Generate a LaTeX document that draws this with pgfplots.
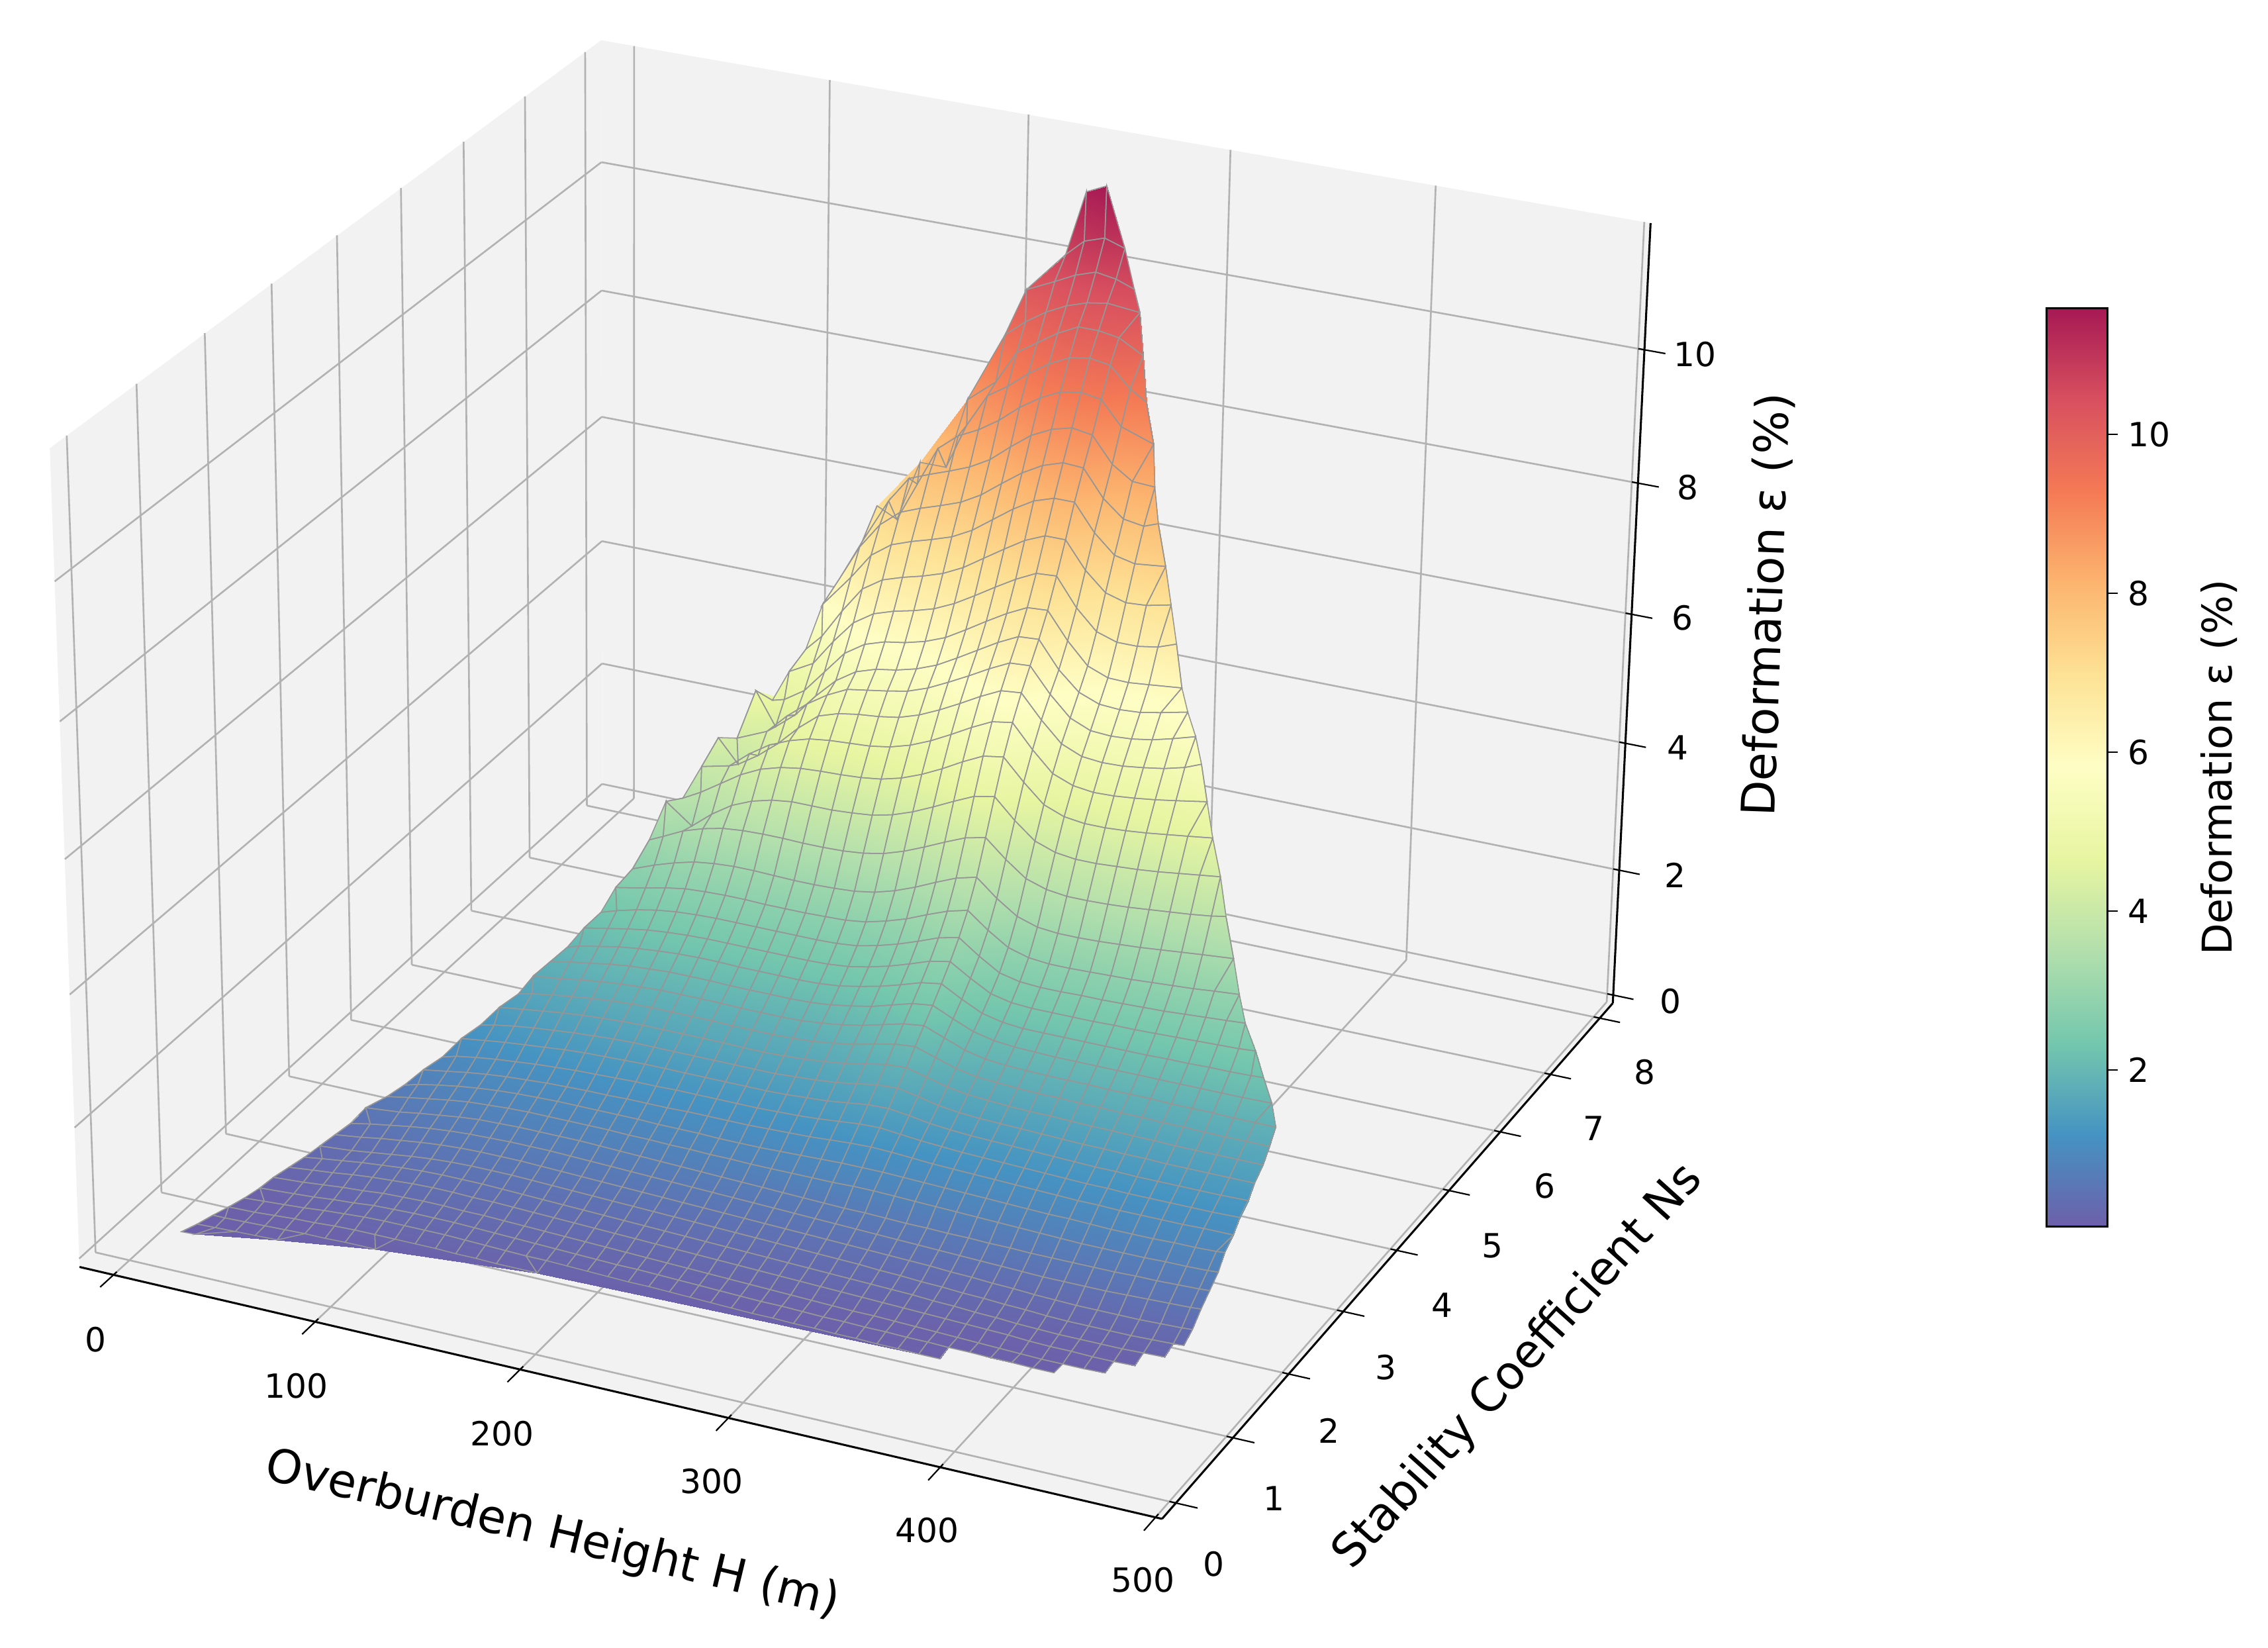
\documentclass[border=0pt]{standalone}
\usepackage{fontspec}
\setmainfont{DejaVu Sans}
\usepackage{pgfplots}
\pgfplotsset{compat=1.18}
\definecolor{pane}{RGB}{242,242,242}
\definecolor{gridc}{RGB}{178,178,178}
\definecolor{meshc}{RGB}{150,150,150}
\newcommand\Proj[3]{%
 \pgfmathsetmacro\qX{0.0021977*(#1-243)}%
 \pgfmathsetmacro\qY{0.13429*(#2-4.015)}%
 \pgfmathsetmacro\qZ{0.0839*(#3-5.77)}%
 \pgfmathsetmacro\qD{10-(0.3660*\qX-0.7849*\qY+0.5*\qZ)}%
 \pgfmathsetmacro\qzf{(#3+0.13)/11.8}%
 \pgfmathsetmacro\qhf{(#1+17)/520}%
 \pgfmathsetmacro\qnf{(#2+0.24)/8.51}%
 \pgfmathsetmacro\PX{597.4+7150*(0.9063*\qX+0.4226*\qY)/\qD+8*(1-\qhf)*\qzf}%
 \pgfmathsetmacro\PY{519-6299*(-0.2113*\qX+0.4532*\qY+0.8660*\qZ)/\qD+\qzf*(-7*(1-\qnf)+\qnf*(7-5*\qhf))}%
}
\newcommand\hmin{-17}\newcommand\hmax{503}
\newcommand\nmin{-0.24}\newcommand\nmax{8.27}
\newcommand\zlo{-0.13}\newcommand\zhi{11.87}
\newcommand\Hstart{5}\newcommand\Hstep{10}\newcommand\Ncols{47}
\gdef\pts{}
\gdef\mpts{}
\newcount\cc
\newcount\nv
\newcommand\nanpt{(nan,nan,0) [0]}
% one row of the grid: Ns, index of first column holding a value,
% H of the first value, H of the last value (0: the grid's own), deformation values
\newcommand\Row[5]{%
 \global\nv=0
 \foreach \e in {#5}{\global\advance\nv by 1}%
 \global\cc=#2\relax
 \foreach \e [count=\ii] in {#5}{%
  \ifnum\ii=1 \edef\hh{#3}%
  \else
   \pgfmathsetmacro\hh{\Hstart+\Hstep*(\the\cc-1)}%
   \ifnum\ii=\nv \ifdim #4pt>0pt \edef\hh{#4}\fi\fi
  \fi
  \Proj{\hh}{#1}{\e}%
  \ifnum\ii=1
   \foreach \jj in {2,...,#2}{\ifnum#2>1
     \xdef\pts{\pts (\PX,\PY,0) [\e]}%
     \ifnum\jj=#2 \xdef\mpts{\mpts (\PX,\PY,0) [\e]}\else \xdef\mpts{\mpts \nanpt}\fi
   \fi}%
  \fi
  \xdef\pts{\pts (\PX,\PY,0) [\e]}\xdef\mpts{\mpts (\PX,\PY,0) [\e]}\global\advance\cc by 1
  \xdef\lastpt{(\PX,\PY,0) [\e]}%
 }%
 \ifdim #4pt>0pt \else \gdef\lastpt{(nan,nan,0) [0]}\fi
 \loop\ifnum\cc<\numexpr\Ncols+1\relax
  \xdef\pts{\pts \lastpt}%
  \ifnum\cc=\numexpr#2+\nv\relax \xdef\mpts{\mpts \lastpt}\else \xdef\mpts{\mpts \nanpt}\fi
  \global\advance\cc by 1
 \repeat
}
\Row{7.58}{26}{248}{258}{11.45,11.59}
\Row{7.30}{25}{246}{275}{10.7,10.95,11.05,10.95}
\Row{7.15}{24}{231}{284}{10.2,10.4,10.55,10.65,10.6,10.5}
\Row{7.00}{23}{225}{291}{9.6,9.85,10.05,10.2,10.3,10.35,10.3}
\Row{6.85}{22}{211}{297}{8.65,9.0,9.5,9.7,9.9,10.05,10.05,10.0,9.8}
\Row{6.70}{20}{192}{303}{7.7,7.7,8.4,8.9,9.1,9.35,9.55,9.7,9.75,9.7,9.4, 9.25}
\Row{6.55}{18}{175}{311}{7.05,6.9,7.5, 8.1,8.35,8.5,8.7,8.95,9.15,9.3,9.35,9.3,8.95, 8.78}
\Row{6.40}{18}{172}{316}{6.6,7.3,7.7, 7.82,7.93,8.05,8.22,8.47,8.7,8.85,8.93,8.88,8.5, 8.3,8.28}
\Row{6.25}{17}{165}{322}{6.1,6.65,7.05,7.3, 7.42,7.52,7.63,7.8,8.03,8.25,8.42,8.52,8.5,8.1, 7.85,7.8,7.88}
\Row{6.10}{17}{161}{330}{5.8,6.3,6.7,6.92, 7.03,7.12,7.22,7.38,7.6,7.82,8.0,8.1,8.1,7.7, 7.42,7.35,7.4}
\Row{5.95}{16}{157}{337}{5.2,5.45,5.9,6.3,6.5, 6.6,6.68,6.78,6.93,7.13,7.33,7.52,7.65,7.65,7.25, 6.97,6.88,6.9,6.98}
\Row{5.80}{16}{153}{344}{4.95,5.15,5.55,5.9,6.1, 6.2,6.27,6.36,6.5,6.68,6.87,7.05,7.2,7.22,6.8, 6.5,6.4,6.4,6.45,6.55}
\Row{5.65}{15}{149}{351}{4.6,4.65,4.85,5.2,5.55,5.75, 5.85,5.9,5.98,6.1,6.28,6.47,6.65,6.8,6.82,6.42, 6.1,5.98,5.97,6.0,6.05}
\Row{5.50}{15}{145}{358}{4.85,4.35,4.6,4.95,5.25,5.45, 5.55,5.6,5.68,5.8,5.97,6.15,6.33,6.48,6.5,6.1, 5.82,5.7,5.68,5.7,5.76,5.85}
\Row{5.35}{15}{140}{366}{4.2,4.4,4.7,4.95,5.15,5.3, 5.35,5.4,5.46,5.57,5.72,5.88,6.05,6.2,6.22,5.85, 5.55,5.42,5.4,5.42,5.47,5.55,5.65}
\Row{5.20}{14}{135}{373}{4.3,3.95,4.15,4.4,4.7,4.95,5.05, 5.1,5.13,5.18,5.28,5.42,5.58,5.75,5.9,5.93,5.58, 5.28,5.15,5.12,5.13,5.17,5.22,5.3,5.4}
\Row{5.05}{14}{131}{380}{3.95,4.05,4.3,4.5,4.63,4.72,4.76, 4.78,4.8,4.85,4.94,5.07,5.23,5.4,5.55,5.6,5.25, 4.95,4.83,4.79,4.8,4.83,4.87,4.92,5.0}
\Row{4.90}{13}{126}{387}{3.55,3.7,3.9,4.1,4.25,4.34,4.39,4.41, 4.42,4.44,4.48,4.56,4.68,4.83,5.0,5.15,5.2,4.88, 4.6,4.48,4.44,4.44,4.46,4.49,4.53,4.57,4.62}
\Row{4.75}{13}{122}{395}{3.6,3.3,3.55,3.75,3.88,3.96,4.0,4.0, 4.0,4.02,4.05,4.12,4.23,4.37,4.52,4.66,4.72,4.42, 4.17,4.06,4.02,4.02,4.04,4.06,4.09,4.13,4.17,4.21}
\Row{4.60}{12}{118}{402}{3.1,3.2,3.35,3.45,3.52,3.55,3.56,3.56,3.55, 3.55,3.56,3.59,3.65,3.75,3.88,4.02,4.15,4.22,3.95, 3.72,3.62,3.58,3.58,3.59,3.61,3.64,3.67,3.7,3.74, 3.78}
\Row{4.45}{12}{114}{410}{2.75,2.88,2.98,3.06,3.1,3.12,3.12,3.11,3.1, 3.1,3.11,3.13,3.18,3.27,3.39,3.53,3.66,3.74,3.48, 3.27,3.17,3.14,3.14,3.15,3.17,3.19,3.22,3.25,3.28, 3.32}
\Row{4.30}{12}{110}{417}{2.56,2.65,2.72,2.77,2.79,2.8,2.8,2.79,2.79, 2.79,2.8,2.81,2.85,2.93,3.03,3.16,3.28,3.36,3.12, 2.92,2.83,2.8,2.8,2.81,2.82,2.83,2.85,2.87,2.89, 2.92,2.95}
\Row{4.15}{11}{107}{424}{2.28,2.36,2.44,2.5,2.54,2.56,2.57,2.57,2.57,2.57, 2.57,2.57,2.58,2.61,2.68,2.77,2.88,3.0,3.07,2.85, 2.66,2.59,2.57,2.57,2.58,2.58,2.59,2.6,2.61,2.63, 2.65,2.67,2.69}
\Row{4.00}{11}{103}{433}{2.14,2.21,2.27,2.32,2.35,2.37,2.38,2.38,2.38,2.38, 2.38,2.38,2.39,2.42,2.48,2.56,2.66,2.77,2.83,2.64, 2.47,2.4,2.38,2.38,2.38,2.38,2.39,2.39,2.4,2.41, 2.42,2.43,2.44,2.46}
\Row{3.85}{10}{99}{441}{1.94, 2.0,2.06,2.12,2.16,2.19,2.21,2.22,2.22,2.21,2.21, 2.21,2.21,2.22,2.25,2.31,2.38,2.47,2.57,2.62,2.45, 2.3,2.23,2.2,2.2,2.2,2.2,2.2,2.2,2.2,2.21, 2.21,2.22,2.22,2.23,2.24}
\Row{3.70}{10}{95}{449}{1.82, 1.88,1.93,1.98,2.02,2.04,2.06,2.06,2.06,2.05,2.05, 2.05,2.05,2.06,2.09,2.14,2.2,2.29,2.38,2.42,2.28, 2.15,2.08,2.05,2.04,2.03,2.03,2.03,2.03,2.03,2.03, 2.03,2.03,2.03,2.03,2.04}
\Row{3.55}{10}{91}{455}{1.7, 1.75,1.8,1.84,1.87,1.89,1.91,1.91,1.91,1.91,1.9, 1.9,1.9,1.91,1.94,1.98,2.04,2.12,2.2,2.24,2.12, 2.0,1.93,1.9,1.89,1.88,1.88,1.88,1.87,1.87,1.87, 1.86,1.86,1.86,1.85,1.85,1.85}
\Row{3.40}{9}{88}{456}{1.53,1.58, 1.63,1.67,1.71,1.74,1.76,1.77,1.77,1.77,1.77,1.76, 1.76,1.76,1.77,1.79,1.83,1.88,1.95,2.02,2.05,1.95, 1.85,1.79,1.77,1.75,1.74,1.74,1.73,1.73,1.72,1.72, 1.71,1.71,1.7,1.7,1.7,1.7}
\Row{3.25}{9}{83}{457}{1.42,1.47, 1.51,1.55,1.58,1.6,1.62,1.63,1.63,1.63,1.63,1.63, 1.62,1.62,1.63,1.65,1.68,1.72,1.78,1.84,1.86,1.78, 1.7,1.65,1.63,1.61,1.6,1.6,1.59,1.58,1.58,1.57, 1.57,1.56,1.56,1.56,1.56,1.56}
\Row{3.10}{8}{78}{457}{1.24,1.29,1.34, 1.38,1.41,1.44,1.46,1.48,1.49,1.49,1.49,1.49,1.49, 1.49,1.49,1.49,1.51,1.53,1.56,1.61,1.66,1.68,1.62, 1.55,1.51,1.49,1.48,1.47,1.46,1.45,1.44,1.44,1.43, 1.43,1.42,1.42,1.42,1.42,1.42}
\Row{2.95}{8}{73}{458}{1.13,1.18,1.22, 1.25,1.28,1.31,1.33,1.34,1.35,1.36,1.36,1.36,1.36, 1.36,1.36,1.36,1.37,1.39,1.41,1.45,1.49,1.5,1.46, 1.41,1.38,1.36,1.35,1.34,1.33,1.32,1.31,1.3,1.3, 1.29,1.29,1.29,1.29,1.29,1.3}
\Row{2.80}{7}{68}{458}{0.94,1.0,1.05,1.09, 1.12,1.15,1.17,1.19,1.2,1.21,1.22,1.22,1.23,1.23, 1.23,1.23,1.23,1.24,1.25,1.27,1.3,1.33,1.34,1.31, 1.28,1.26,1.24,1.23,1.22,1.21,1.2,1.19,1.18,1.18, 1.17,1.17,1.17,1.17,1.17,1.18}
\Row{2.65}{7}{63}{459}{0.84,0.9,0.95,0.99, 1.02,1.04,1.06,1.07,1.08,1.08,1.09,1.09,1.09,1.1, 1.1,1.1,1.1,1.11,1.12,1.13,1.15,1.17,1.18,1.17, 1.15,1.13,1.12,1.11,1.1,1.09,1.08,1.07,1.06,1.06, 1.05,1.05,1.05,1.05,1.06,1.06}
\Row{2.50}{6}{58}{459}{0.7,0.76,0.82,0.87,0.91, 0.94,0.96,0.97,0.98,0.98,0.98,0.98,0.98,0.97,0.97, 0.97,0.96,0.96,0.96,0.97,0.98,0.99,1.0,1.0,1.0, 0.99,0.98,0.97,0.96,0.95,0.94,0.93,0.92,0.92,0.91, 0.9,0.9,0.9,0.91,0.91,0.92,0.93}
\Row{2.35}{6}{54}{460}{0.63,0.69,0.74,0.79,0.83, 0.85,0.87,0.88,0.88,0.88,0.88,0.88,0.87,0.87,0.86, 0.86,0.85,0.85,0.84,0.84,0.84,0.84,0.84,0.85,0.85, 0.84,0.83,0.82,0.81,0.8,0.79,0.78,0.77,0.76,0.75, 0.75,0.75,0.75,0.76,0.76,0.77,0.78}
\Row{2.20}{6}{48}{460}{0.55,0.6,0.65,0.69,0.73, 0.76,0.77,0.78,0.78,0.78,0.78,0.77,0.76,0.75,0.74, 0.73,0.72,0.71,0.7,0.69,0.68,0.67,0.66,0.65,0.65, 0.64,0.63,0.63,0.62,0.62,0.61,0.61,0.6,0.6,0.6, 0.6,0.6,0.61,0.61,0.62,0.63,0.64}
\Row{2.05}{5}{45}{460}{0.42,0.48,0.53,0.58,0.62,0.65, 0.67,0.68,0.69,0.69,0.69,0.68,0.67,0.66,0.65,0.64, 0.63,0.62,0.61,0.6,0.59,0.58,0.57,0.56,0.55,0.54, 0.53,0.52,0.51,0.5,0.49,0.48,0.47,0.46,0.45,0.45, 0.45,0.45,0.46,0.47,0.48,0.49,0.5}
\Row{1.90}{5}{42}{460}{0.36,0.41,0.46,0.5,0.54,0.57, 0.59,0.6,0.6,0.6,0.59,0.58,0.57,0.56,0.55,0.54, 0.53,0.52,0.51,0.5,0.49,0.48,0.47,0.46,0.45,0.44, 0.43,0.42,0.41,0.4,0.38,0.37,0.35,0.34,0.32,0.31, 0.3,0.3,0.3,0.3,0.31,0.32,0.33}
\Row{1.75}{5}{39}{460}{0.3,0.34,0.38,0.42,0.46,0.49, 0.51,0.52,0.52,0.52,0.51,0.5,0.49,0.48,0.47,0.46, 0.45,0.44,0.43,0.42,0.41,0.4,0.39,0.38,0.37,0.36, 0.35,0.33,0.32,0.3,0.29,0.27,0.26,0.24,0.23,0.21, 0.2,0.2,0.2,0.2,0.21,0.22,0.23}
\Row{1.60}{4}{36}{0}{0.24,0.28,0.32,0.36,0.39,0.42,0.44, 0.45,0.45,0.45,0.44,0.43,0.42,0.41,0.4,0.39,0.38, 0.37,0.36,0.35,0.34,0.33,0.32,0.31,0.3,0.29,0.28, 0.27,0.26,0.25,0.24,0.22,0.21,0.19,0.18,0.16,0.15, 0.14,0.14,0.14,0.14,0.15,0.16}
\Row{1.45}{4}{33}{0}{0.2,0.24,0.27,0.31,0.34,0.36,0.38, 0.39,0.39,0.38,0.38,0.37,0.36,0.35,0.34,0.33,0.32, 0.31,0.3,0.29,0.28,0.27,0.26,0.25,0.24,0.23,0.22, 0.21,0.2,0.19,0.18,0.17,0.16,0.15,0.14,0.13,0.11, 0.1,0.1,0.09,0.09,0.1}
\Row{1.30}{4}{30}{0}{0.16,0.19,0.22,0.25,0.27,0.3,0.31, 0.32,0.32,0.31,0.31,0.3,0.29,0.28,0.27,0.26,0.25, 0.24,0.23,0.22,0.21,0.2,0.19,0.18,0.17,0.16,0.15, 0.14,0.13,0.13,0.12,0.11,0.1,0.09,0.08,0.07,0.06, 0.05,0.05,0.05,0.06}
\Row{1.15}{4}{28}{0}{0.12,0.15,0.17,0.2,0.22,0.25,0.26, 0.27,0.27,0.27,0.26,0.25,0.24,0.23,0.22,0.21,0.2, 0.19,0.19,0.18,0.17,0.16,0.15,0.14,0.13,0.13,0.12, 0.11,0.11,0.1,0.1,0.09,0.09,0.08,0.08,0.07,0.07, 0.06,0.06}
\Row{1.00}{3}{25}{0}{0.08,0.1,0.12,0.14,0.17,0.19,0.21,0.22, 0.22,0.22,0.22,0.21,0.2,0.19,0.18,0.18,0.17,0.16, 0.15,0.14,0.14,0.13,0.12,0.11,0.1,0.09,0.09,0.08, 0.08,0.07,0.07,0.06,0.06,0.05,0.05}
\Row{0.85}{3}{22}{175}{0.06,0.07,0.09,0.11,0.12,0.14,0.15,0.15, 0.15,0.15,0.15,0.14,0.14,0.13,0.13}
\Row{0.70}{2}{19}{100}{0.05,0.05,0.06,0.07,0.08,0.09,0.09,0.1,0.1}
\Row{0.55}{2}{16}{56}{0.03,0.04,0.05,0.06,0.07}
\Row{0.40}{2}{13}{20}{0.03,0.04}
\newcommand\plotsurf[1]{\addplot3[surf,shader=interp,mesh/cols=\Ncols,z buffer=none,unbounded coords=jump,point meta=explicit,forget plot] coordinates {#1};}
\newcommand\plotmesh[1]{\addplot3[mesh,draw=meshc,line width=0.35pt,mesh/cols=\Ncols,z buffer=none,unbounded coords=jump,point meta=explicit,forget plot] coordinates {#1};}
\gdef\cmds{}
\newcommand\seg[7]{% style, H N z H N z
 \Proj{#2}{#3}{#4}\let\ax\PX\let\ay\PY
 \Proj{#5}{#6}{#7}%
 \xdef\cmds{\unexpanded\expandafter{\cmds}\noexpand\draw[#1] (axis cs:\ax,\ay,0) -- (axis cs:\PX,\PY,0);}%
}
\newcommand\quadr[4]{% four corners, each a group of H N z
 \Proj#1\let\ax\PX\let\ay\PY
 \Proj#2\let\bx\PX\let\by\PY
 \Proj#3\let\cx\PX\let\cy\PY
 \Proj#4%
 \xdef\cmds{\unexpanded\expandafter{\cmds}\noexpand\fill[pane] (axis cs:\ax,\ay,0) -- (axis cs:\bx,\by,0) -- (axis cs:\cx,\cy,0) -- (axis cs:\PX,\PY,0) -- cycle;}%
}
\quadr{{\hmin}{\nmin}{\zlo}}{{\hmax}{\nmin}{\zlo}}{{\hmax}{\nmax}{\zlo}}{{\hmin}{\nmax}{\zlo}}
\quadr{{\hmin}{\nmin}{\zlo}}{{\hmin}{\nmax}{\zlo}}{{\hmin}{\nmax}{\zhi}}{{\hmin}{\nmin}{\zhi}}
\quadr{{\hmin}{\nmax}{\zlo}}{{\hmax}{\nmax}{\zlo}}{{\hmax}{\nmax}{\zhi}}{{\hmin}{\nmax}{\zhi}}
\newcommand\gs{gridc,line width=.6pt}
\newcommand\ts{black,line width=.5pt}
\foreach \tk in {0,100,200,300,400,500}{%
 \seg{\gs}{\tk}{\nmin}{\zlo}{\tk}{\nmax}{\zlo}%
 \seg{\gs}{\tk}{\nmax}{\zlo}{\tk}{\nmax}{\zhi}%
}
\foreach \tk in {0,...,8}{%
 \seg{\gs}{\hmin}{\tk}{\zlo}{\hmax}{\tk}{\zlo}%
 \seg{\gs}{\hmin}{\tk}{\zlo}{\hmin}{\tk}{\zhi}%
}
\foreach \tk in {0,2,4,6,8,10}{%
 \seg{\gs}{\hmin}{\nmin}{\tk}{\hmin}{\nmax}{\tk}%
 \seg{\gs}{\hmin}{\nmax}{\tk}{\hmax}{\nmax}{\tk}%
}
\seg{black,line width=.7pt}{\hmin}{\nmin}{\zlo}{\hmax}{\nmin}{\zlo}
\seg{black,line width=.7pt}{\hmax}{\nmin}{\zlo}{\hmax}{\nmax}{\zlo}
\seg{black,line width=.7pt}{\hmax}{\nmax}{\zlo}{\hmax}{\nmax}{\zhi}
\foreach \tk in {0,100,200,300,400,500}{\seg{\ts}{\tk}{-0.19}{\zlo}{\tk}{-0.44}{\zlo}}
\foreach \tk in {0,...,8}{\seg{\ts}{500}{\tk}{\zlo}{513}{\tk}{\zlo}}
\foreach \tk in {0,2,4,6,8,10}{\seg{\ts}{500}{\nmax}{\tk}{513}{\nmax}{\tk}}
\newcommand\tl[3]{\node[font=\fontsize{11.5}{13}\selectfont] at (axis cs:#1,#2,0) {#3};}
\newcommand\al[4]{\node[font=\fontsize{16}{18}\selectfont,rotate=#3] at (axis cs:#1,#2,0) {#4};}
\begin{document}
\begin{tikzpicture}
\begin{axis}[hide axis,scale only axis,width=784pt,height=569.5pt,xmin=0,xmax=1568,ymin=0,ymax=1139,zmin=-1,zmax=1,view={0}{90},y dir=reverse,clip=false,
 colormap={sp}{rgb255=(109,95,170) rgb255=(69,147,194) rgb255=(116,199,173) rgb255=(178,223,172) rgb255=(231,245,161) rgb255=(254,254,196) rgb255=(253,226,149) rgb255=(252,181,111) rgb255=(244,122,85) rgb255=(216,80,95) rgb255=(166,25,84)},
 point meta min=0.03,point meta max=11.59,
 colorbar,colorbar/width=21pt,colorbar style={at={(699pt,145.5pt)},anchor=south west,height=317.5pt,xmin=0,xmax=1,ytick={2,4,6,8,10},y dir=normal,ytick pos=right,
 axis line style={black,line width=.7pt},major tick length=3.6pt,tick align=outside,ytick style={black,line width=.5pt},
 ylabel={Deformation ε (\%)},ylabel style={font=\fontsize{14.2}{16}\selectfont,yshift=-3.5pt},yticklabel style={font=\fontsize{11.5}{13}\selectfont,/pgf/number format/assume math mode=true},hide axis=false}]
\cmds
\expandafter\plotsurf\expandafter{\pts}
\expandafter\plotmesh\expandafter{\mpts}
\tl{66}{926}{0}\tl{205}{958}{100}\tl{347}{991}{200}\tl{492}{1024}{300}\tl{641}{1058}{400}\tl{790}{1092}{500}
\tl{839}{1081}{0}\tl{881}{1036}{1}\tl{919}{989}{2}\tl{958}{945}{3}\tl{997}{902}{4}\tl{1032}{861}{5}\tl{1068}{820}{6}\tl{1102}{780}{7}\tl{1137}{741}{8}
\tl{1155}{692}{0}\tl{1158}{605}{2}\tl{1160}{517}{4}\tl{1163}{427}{6}\tl{1167}{337}{8}\tl{1172}{245}{10}
\al{382}{1061}{-13.5}{Overburden Height H (m)}
\al{1050}{945}{48}{Stability Coefficient Ns}
\al{1222}{418}{88}{Deformation ε (\%)}
\path (axis cs:0,0,0) rectangle (axis cs:1568,1139,0);
\end{axis}
\end{tikzpicture}
\end{document}
